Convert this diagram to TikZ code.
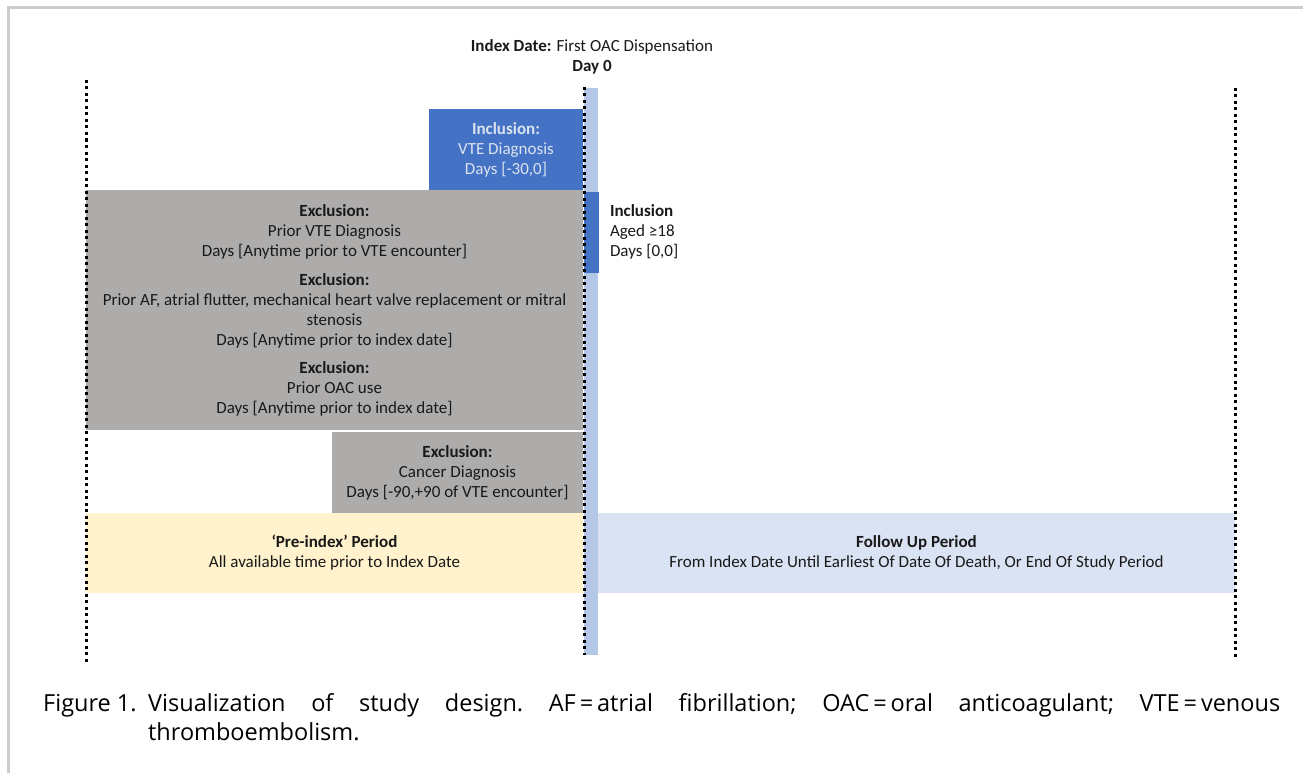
\documentclass[tikz,border=0pt]{standalone}
\usepackage{fontspec}
\usetikzlibrary{positioning}
\setmainfont{Carlito}
\newfontfamily\capfont{Open Sans}
\definecolor{exclgrey}{HTML}{AEABAB}
\definecolor{inclblue}{HTML}{4472C4}
\definecolor{indexblue}{HTML}{B4C7E7}
\definecolor{precream}{HTML}{FFF2CC}
\definecolor{followblue}{HTML}{DAE3F3}
\definecolor{framegrey}{HTML}{CCCCCC}
\definecolor{incltext}{HTML}{DCE3F0}
\tikzset{
  period/.style={anchor=north west, inner sep=0pt, outer sep=0pt, align=center,
    font=\fontsize{17}{20}\selectfont, text=black!90},
  timeline/.style={line width=3pt, dash pattern=on 3pt off 3.5pt}
}
\begin{document}
\begin{tikzpicture}[x=1pt, y=-1pt]
\useasboundingbox (0,0) rectangle (1303,773);
% page frame
\draw[framegrey, line width=3pt] (8,773) -- (8,8) -- (1303,8);
% index date bar
\fill[indexblue] (584,88) rectangle (598,655);
\node[period, anchor=center] (index) at (592,57) {\textbf{Index Date:} First OAC Dispensation\\\textbf{Day 0}};
% inclusion
\node[period, fill=inclblue, text=incltext, minimum width=154, minimum height=81] (vte) at (429,109)
  {\textbf{Inclusion:}\\VTE Diagnosis\\Days [-30,0]};
\node[period, fill=inclblue, minimum width=15, minimum height=81] (agebar) at (584,192) {};
\node[period, align=left, right=11pt of agebar.north east, anchor=north west, yshift=-13pt] (age)
  {\textbf{Inclusion}\\Aged ≥18\\Days [0,0]};
% exclusion
\node[period, fill=exclgrey, minimum width=497, minimum height=240] (excl) at (86,190)
  {\textbf{Exclusion:}\\Prior VTE Diagnosis\\Days [Anytime prior to VTE encounter]\\[9pt]
   \textbf{Exclusion:}\\Prior AF, atrial flutter, mechanical heart valve replacement or mitral\\stenosis\\Days [Anytime prior to index date]\\[8pt]
   \textbf{Exclusion:}\\Prior OAC use\\Days [Anytime prior to index date]};
\node[period, fill=exclgrey, minimum width=251, minimum height=81] (cancer) at (332,432)
  {\textbf{Exclusion:}\\Cancer Diagnosis\\Days [-90,+90 of VTE encounter]};
% periods
\node[period, fill=precream, minimum width=497, minimum height=80] (pre) at (86,513)
  {\textbf{`Pre-index' Period}\\All available time prior to Index Date};
\node[period, fill=followblue, minimum width=637, minimum height=80] (follow) at (598,513)
  {\textbf{Follow Up Period}\\From Index Date Until Earliest Of Date Of Death, Or End Of Study Period};
% time lines
\draw[timeline] (86,80) -- (86,665);
\draw[timeline] (584,87) -- (584,655);
\draw[timeline] (1235,88) -- (1235,657);
% caption
\node[anchor=base west, inner sep=0pt] (caption) at (43,711)
  {\parbox[t]{1237pt}{\frenchspacing\capfont\fontsize{23.5}{29}\selectfont\hangindent=105pt\hangafter=1
   \makebox[105pt][l]{Figure 1.}Visualization of study design. AF\,=\,atrial fibrillation; OAC\,=\,oral anticoagulant; VTE\,=\,venous\linebreak thromboembolism.}};
\end{tikzpicture}
\end{document}
